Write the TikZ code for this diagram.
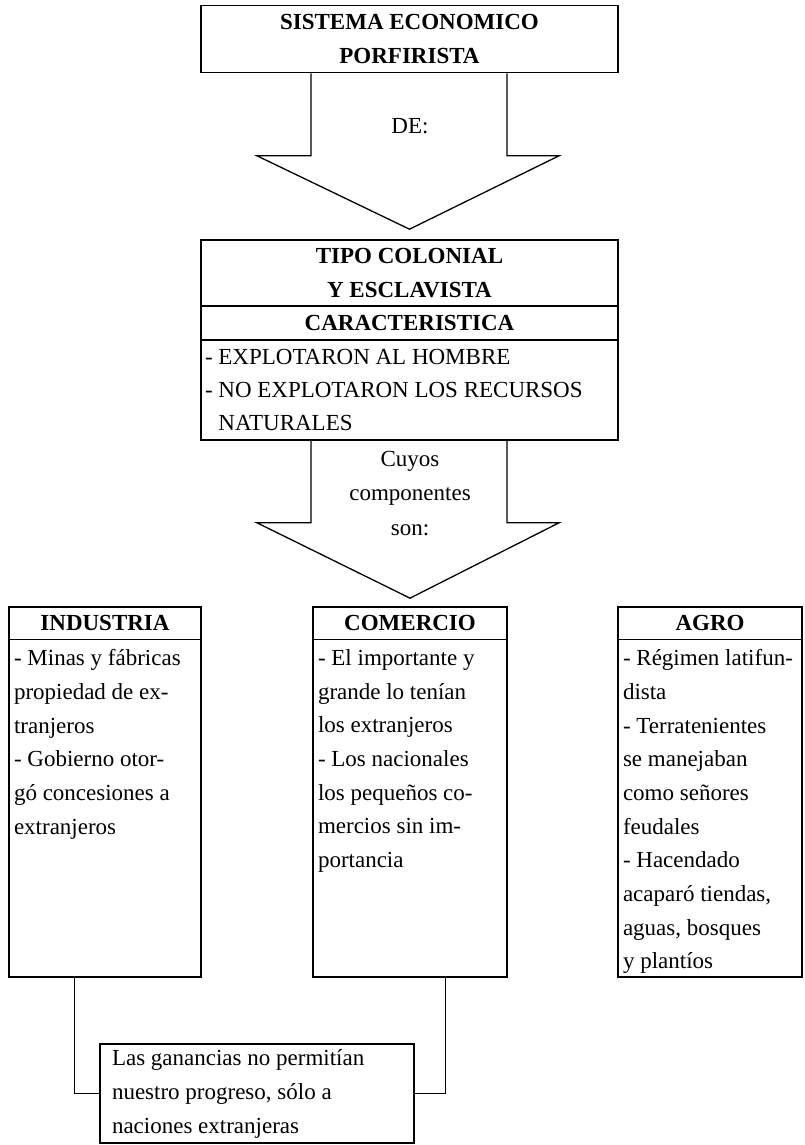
\documentclass[tikz,border=0pt]{standalone}
\usepackage{fontspec}
\setmainfont{Liberation Serif}
\usetikzlibrary{calc,positioning}

\begin{document}
\begin{tikzpicture}[x=1pt, y=-1pt, line width=1.6pt, line join=miter]
   \useasboundingbox (0,0) rectangle (804,1145);
   \begin{scope}[every node/.style={draw,rectangle,inner sep=0pt,align=center,font=\fontsize{23}{34}\selectfont\bfseries}]
    \node (sistema) [minimum width=417, minimum height=67] at (409.5,39.2) {SISTEMA ECONOMICO\\PORFIRISTA};
    \node (tipo) [minimum width=417, minimum height=66] at (409.5,273) {TIPO COLONIAL\\Y ESCLAVISTA};
    \node (carac) [minimum width=417, minimum height=34] at (409.5,323) {CARACTERISTICA};
    \node (indhead) [minimum width=192, minimum height=32.5] at (105,623.2) {INDUSTRIA};
    \node (comhead) [minimum width=194, minimum height=32.5] at (410,623.2) {COMERCIO};
    \node (agrohead) [minimum width=184, minimum height=32.5] at (710,623.2) {AGRO};
   \end{scope}
   \begin{scope}[every node/.style={draw,rectangle,inner sep=0pt,align=flush left,font=\fontsize{23}{33}\selectfont}]
    \node (expl) [minimum width=417, minimum height=100, text width=409, inner xsep=4pt] at (409.5,390) {- EXPLOTARON AL HOMBRE\\- NO EXPLOTARON LOS RECURSOS\\\hphantom{- }NATURALES};
    \node (indbody) [minimum width=192, minimum height=337.5] at (105,808.2) {};
    \node (combody) [minimum width=194, minimum height=337.5] at (410,808.2) {};
    \node (agrobody) [minimum width=184, minimum height=337.5] at (710,808.2) {};
    \node (ganan) [minimum width=314, minimum height=99, text width=290, inner xsep=12pt, font=\fontsize{23}{34}\selectfont] at (257,1093.5) {Las ganancias no permitían\\nuestro progreso, sólo a\\naciones extranjeras};
   \end{scope}
   \begin{scope}[every node/.style={inner sep=0pt,align=left,anchor=north west,font=\fontsize{23}{33.7}\selectfont}]
    \node (indtext) at ($(indbody.north west)+(5,10)$) {- Minas y fábricas\\propiedad de ex-\\tranjeros\\- Gobierno otor-\\gó concesiones a\\extranjeros};
    \node (comtext) at ($(combody.north west)+(5,10)$) {- El importante y\\grande lo tenían\\los extranjeros\\- Los nacionales\\los pequeños co-\\mercios sin im-\\portancia};
    \node (agrotext) at ($(agrobody.north west)+(5,10)$) {- Régimen latifun-\\dista\\- Terratenientes\\se manejaban\\como señores\\feudales\\- Hacendado\\acaparó tiendas,\\aguas, bosques\\y plantíos};
    \node (de) [anchor=center] at (410,126) {DE:};
    \node (cuyos) [anchor=center, align=center, font=\fontsize{23}{34.5}\selectfont] at (410,493.5) {Cuyos\\componentes\\son:};
   \end{scope}
   % flechas
   \begin{scope}[line width=1.3pt]
    \draw ($(sistema.south)+(-98.5,0)$) -- ++(0,82.3) -- ++(-54,0) -- ($(tipo.north)+(0,-10)$) -- ($(sistema.south)+(149.5,82.3)$) -- ++(-52,0) -- ($(sistema.south)+(97.5,0)$);
    \draw ($(expl.south)+(-98.5,0)$) -- ++(0,82) -- ++(-54,0) -- ($(comhead.north)+(0,-8)$) -- ($(expl.south)+(149.5,82)$) -- ++(-52,0) -- ($(expl.south)+(97.5,0)$);
   \end{scope}
   \begin{scope}[line width=0.8pt]
    \draw ($(indbody.south)+(-31,0)$) |- (ganan.west);
    \draw ($(combody.south)+(35,0)$) |- (ganan.east);
   \end{scope}
\end{tikzpicture}
\end{document}
